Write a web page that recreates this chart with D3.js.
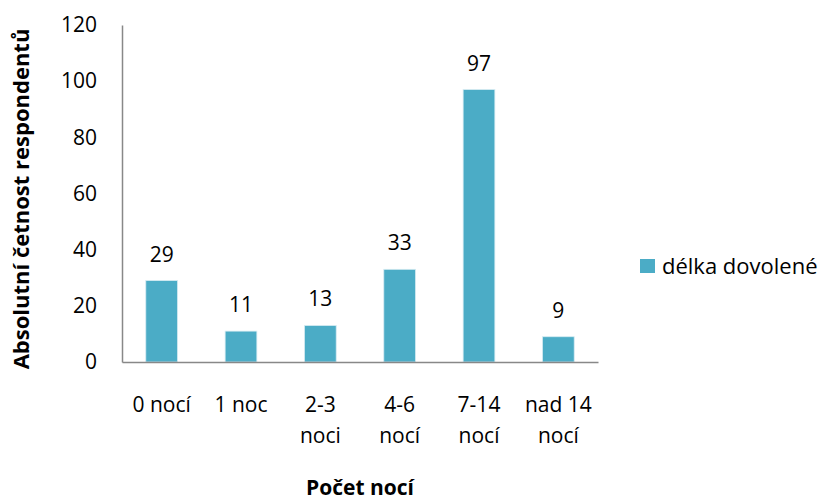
<!DOCTYPE html>
<html><head><meta charset="utf-8">
<script src="https://cdn.jsdelivr.net/npm/d3@7"></script>
<style>body{margin:0;background:#fff}text{font-family:"Open Sans",sans-serif;fill:#000}</style>
</head><body><svg id="c" width="829" height="500"></svg>
<script>
const categories = [["0 nocí"],["1 noc"],["2-3","noci"],["4-6","nocí"],["7-14","nocí"],["nad 14","nocí"]];
const values = [29, 11, 13, 33, 97, 9];
const yTicks = [0, 20, 40, 60, 80, 100, 120];
const seriesName = "délka dovolené";
const xTitle = "Počet nocí";
const yTitle = "Absolutní četnost respondentů";
const color = "#4BACC6";

const FS = "21px";
const svg = d3.select("#c");
const L = 122, R = 598, T = 25, B = 362;
const x = d3.scaleBand().domain(d3.range(values.length)).range([L, R]).paddingInner(0.6).paddingOuter(0.3);
const y = d3.scaleLinear().domain([0, 120]).range([B, T]);

// bars
svg.selectAll("rect.bar").data(values).enter().append("rect")
  .attr("x", (d,i)=>x(i)).attr("width", x.bandwidth())
  .attr("y", d=>y(d)).attr("height", d=>B - y(d))
  .attr("fill", color).attr("stroke", "#d6ecf2").attr("stroke-width", 0.8);

// data labels
svg.selectAll("text.dl").data(values).enter().append("text")
  .attr("x", (d,i)=>x(i)+x.bandwidth()/2).attr("y", d=>y(d)-19)
  .attr("text-anchor","middle").style("font-size",FS).text(d=>d);

// y axis
const yAxis = d3.axisLeft(y).tickValues(yTicks).tickSize(0).tickPadding(25);
const gy = svg.append("g").attr("transform",`translate(${L},0)`).call(yAxis);
gy.select(".domain").attr("stroke","#888").attr("stroke-width",1.5);
gy.selectAll("text").style("font-size",FS).style("font-family","'Open Sans',sans-serif").attr("fill","#000");

// x axis
const xAxis = d3.axisBottom(x).tickSize(0).tickFormat("");
const gx = svg.append("g").attr("transform",`translate(0,${B})`).call(xAxis);
gx.select(".domain").attr("stroke","#888").attr("stroke-width",1.5);

// x labels
const xl = svg.selectAll("text.xl").data(categories).enter().append("text")
  .attr("text-anchor","middle").style("font-size",FS)
  .attr("transform",(d,i)=>`translate(${x(i)+x.bandwidth()/2},${412})`);
xl.selectAll("tspan").data(d=>d).enter().append("tspan")
  .attr("x",0).attr("dy",(d,j)=>j===0?0:31).text(d=>d);

// titles
svg.append("text").attr("x",(L+R)/2).attr("y",495).attr("text-anchor","middle")
  .style("font-size",FS).style("font-weight","bold").text(xTitle);
svg.append("text").attr("transform",`translate(29,199) rotate(-90)`).attr("text-anchor","middle")
  .style("font-size","22px").style("font-weight","bold").text(yTitle);

// legend
svg.append("rect").attr("x",640).attr("y",259).attr("width",15).attr("height",14).attr("fill",color);
svg.append("text").attr("x",662).attr("y",274).style("font-size","22px").text(seriesName);
</script></body></html>
